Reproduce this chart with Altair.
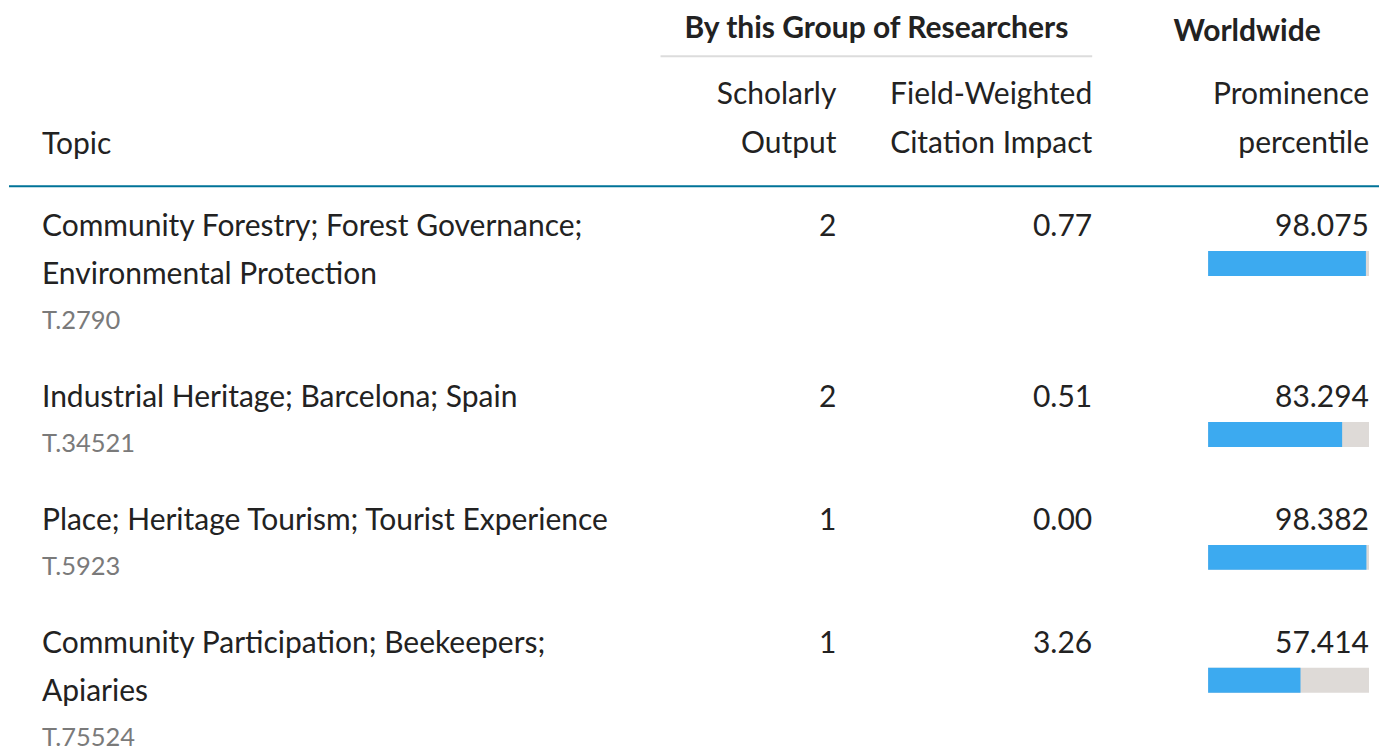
import altair as alt
import pandas as pd

# ---- data ----
topic_lines = [
    ["Community Forestry; Forest Governance;", "Environmental Protection"],
    ["Industrial Heritage; Barcelona; Spain"],
    ["Place; Heritage Tourism; Tourist Experience"],
    ["Community Participation; Beekeepers;", "Apiaries"],
]
topic_codes = ["T.2790", "T.34521", "T.5923", "T.75524"]
scholarly_output = [2, 2, 1, 1]
fwci = [0.77, 0.51, 0.00, 3.26]
prominence = [98.075, 83.294, 98.382, 57.414]
percentile_min, percentile_max = 0, 100

# ---- layout ----
W, H = 1372, 732
OFF = 8
FIRST_BASE = 236 - OFF
LINE_H = 48
CODE_GAP = 45
ROW_GAP = 78
FONT = "Lato"
FS = 30
FS_CODE = 25.5
TXT = "#222222"
GREY = "#7a7a7a"

line_recs, code_recs, row_recs = [], [], []
y = FIRST_BASE
for lines, code, so, fw, pr in zip(topic_lines, topic_codes, scholarly_output, fwci, prominence):
    for j, l in enumerate(lines):
        line_recs.append({"text": l, "y": y + j * LINE_H})
    cy = y + (len(lines) - 1) * LINE_H + CODE_GAP
    code_recs.append({"text": code, "y": cy})
    row_recs.append({"y": y, "so": str(so), "fw": f"{fw:.2f}", "pr": f"{pr:.3f}",
                     "p": pr, "lo": percentile_min, "hi": percentile_max,
                     "by": y + 15, "by2": y + 40})
    y = cy + ROW_GAP

lines_df = pd.DataFrame(line_recs)
codes_df = pd.DataFrame(code_recs)
rows_df = pd.DataFrame(row_recs)

yscale = alt.Scale(domain=[0, H], range=[0, H], nice=False, zero=False)
xscale = alt.Scale(domain=[percentile_min, percentile_max], range=[1201, 1362], nice=False)

def Y(f):
    return alt.Y(f, scale=yscale, axis=None)

base_txt = dict(font=FONT, fontSize=FS, color=TXT, baseline="alphabetic")

topic_layer = alt.Chart(lines_df).mark_text(align="left", **base_txt).encode(
    x=alt.value(34), y=Y("y:Q"), text="text:N")
code_layer = alt.Chart(codes_df).mark_text(align="left", font=FONT, fontSize=FS_CODE,
                                           color=GREY, baseline="alphabetic").encode(
    x=alt.value(34), y=Y("y:Q"), text="text:N")
so_layer = alt.Chart(rows_df).mark_text(align="right", **base_txt).encode(
    x=alt.value(829), y=Y("y:Q"), text="so:N")
fw_layer = alt.Chart(rows_df).mark_text(align="right", **base_txt).encode(
    x=alt.value(1085), y=Y("y:Q"), text="fw:N")
pr_layer = alt.Chart(rows_df).mark_text(align="right", **base_txt).encode(
    x=alt.value(1362), y=Y("y:Q"), text="pr:N")

track = alt.Chart(rows_df).mark_rect(color="#dedad7").encode(
    x=alt.X("lo:Q", scale=xscale, axis=None), x2="hi:Q",
    y=Y("by:Q"), y2="by2:Q")
bars = alt.Chart(rows_df).mark_rect(color="#3caaf0").encode(
    x=alt.X("lo:Q", scale=xscale, axis=None), x2="p:Q",
    y=Y("by:Q"), y2="by2:Q")

hdr = pd.DataFrame({"k": [0]})
def htext(t, x, yy, align, bold=False):
    return alt.Chart(hdr).mark_text(text=t, align=align, font=FONT, fontSize=FS,
                                    fontWeight="bold" if bold else "normal",
                                    color=TXT, baseline="alphabetic").encode(
        x=alt.value(x), y=alt.value(yy))

headers = [
    htext("By this Group of Researchers", 869, 30, "center", True),
    htext("Worldwide", 1240, 33, "center", True),
    htext("Scholarly", 829, 96, "right"),
    htext("Output", 829, 145, "right"),
    htext("Field-Weighted", 1085, 96, "right"),
    htext("Citation Impact", 1085, 145, "right"),
    htext("Prominence", 1362, 96, "right"),
    htext("percentile", 1362, 145, "right"),
    htext("Topic", 34, 146, "left"),
]

grey_rule = alt.Chart(hdr).mark_rule(color="#dcdcdc", strokeWidth=2).encode(
    x=alt.value(653), x2=alt.value(1085), y=alt.value(48))
teal_rule = alt.Chart(hdr).mark_rule(color="#007398", strokeWidth=2).encode(
    x=alt.value(1), x2=alt.value(W), y=alt.value(178))

chart = alt.layer(
    grey_rule, teal_rule, *headers, track, bars,
    topic_layer, code_layer, so_layer, fw_layer, pr_layer
).properties(width=W, height=H, padding=0).configure_view(stroke=None)

chart.save("out.html", embed_options={"renderer": "svg", "actions": False})
